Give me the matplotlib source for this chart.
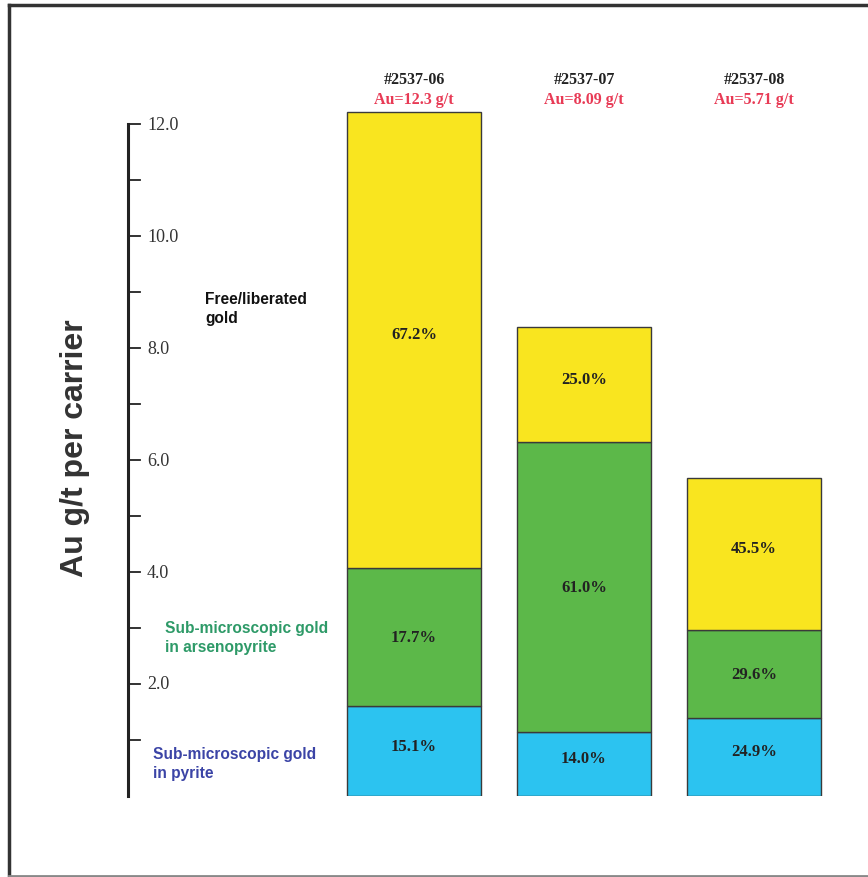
import matplotlib
matplotlib.use("Agg")
import matplotlib.pyplot as plt
from matplotlib.lines import Line2D
import numpy as np

# ---- data ----
samples = ["#2537-06", "#2537-07", "#2537-08"]
assays = ["Au=12.3 g/t", "Au=8.09 g/t", "Au=5.71 g/t"]
pyrite = [1.60, 1.14, 1.39]          # g/t, sub-microscopic gold in pyrite
arsenopyrite = [2.47, 5.19, 1.58]    # g/t, sub-microscopic gold in arsenopyrite
free_gold = [8.15, 2.05, 2.71]       # g/t, free/liberated gold
pct_pyrite = ["15.1%", "14.0%", "24.9%"]
pct_arseno = ["17.7%", "61.0%", "29.6%"]
pct_free = ["67.2%", "25.0%", "45.5%"]
yticks_major = [2.0, 4.0, 6.0, 8.0, 10.0, 12.0]
yticks_minor = [1, 3, 5, 7, 9, 11]

W, H = 868, 878
fig = plt.figure(figsize=(W / 100, H / 100), dpi=100)
fig.patch.set_facecolor("white")

# axes placement (pixels -> figure fraction)
x0_px, y0_px = 128, 797
unit_px = 56.0
ymax = 14
ax = fig.add_axes([x0_px / W, (H - y0_px) / H, (W - x0_px) / W, ymax * unit_px / H])
ax.set_facecolor("none")

bar_px = 170.0
c0 = 414.0
xl = (x0_px - c0) / bar_px
ax.set_xlim(xl, (W - c0) / bar_px)
ax.set_ylim(0, ymax)

def ypx(p):
    # pixel row -> data y
    return (y0_px - p) / unit_px

x = np.arange(len(samples))
width = 134 / bar_px
yellow = "#f9e51f"
green = "#5cb849"
blue = "#2cc3f0"
edge = "#3a3a3a"

pyr = np.array(pyrite)
ars = np.array(arsenopyrite)
fre = np.array(free_gold)
ax.bar(x, pyr, width, color=blue, edgecolor=edge, linewidth=1.0)
ax.bar(x, ars, width, bottom=pyr, color=green, edgecolor=edge, linewidth=1.0)
ax.bar(x, fre, width, bottom=pyr + ars, color=yellow, edgecolor=edge, linewidth=1.0)

serif = ["Liberation Serif", "DejaVu Serif"]
sans = ["Liberation Sans", "DejaVu Sans"]
for i in range(len(samples)):
    ax.text(x[i], pyr[i] / 2 + 0.1, pct_pyrite[i], ha="center", va="center",
            family=serif, fontweight="bold", fontsize=12, color="#222222")
    ax.text(x[i], pyr[i] + ars[i] / 2, pct_arseno[i], ha="center", va="center",
            family=serif, fontweight="bold", fontsize=12, color="#222222")
    ax.text(x[i], pyr[i] + ars[i] + fre[i] / 2 + 0.1, pct_free[i], ha="center", va="center",
            family=serif, fontweight="bold", fontsize=12, color="#222222")
    ax.text(x[i], ypx(80), samples[i], ha="center", va="center",
            family=serif, fontweight="bold", fontsize=11.5, color="#222222")
    ax.text(x[i], ypx(100), assays[i], ha="center", va="center",
            family=serif, fontweight="bold", fontsize=11.5, color="#e83a55")

# axis styling
for s in ["top", "right", "bottom"]:
    ax.spines[s].set_visible(False)
ax.spines["left"].set_bounds(0, 12)
ax.spines["left"].set_linewidth(2.2)
ax.spines["left"].set_color("#222222")
ax.set_xticks([])
ax.set_yticks([])
# ticks drawn to the right of the spine
for v in list(yticks_major) + list(yticks_minor):
    ax.plot([xl, xl + 12 / bar_px], [v, v], color="#222222", lw=1.3, clip_on=False)
for v in yticks_major:
    ax.text(xl + 19 / bar_px, v, f"{v:.1f}", ha="left", va="center",
            family=serif, fontsize=13, color="#333333")

# category labels on the left
lab_kw = dict(ha="left", va="center", family=sans, fontsize=11.2, fontweight="bold",
              linespacing=1.3)
ax.text(xl + 77 / bar_px, ypx(309), "Free/liberated\ngold", color="#111111", **lab_kw)
ax.text(xl + 37 / bar_px, ypx(638), "Sub-microscopic gold\nin arsenopyrite",
        color="#2e9a68", **lab_kw)
ax.text(xl + 25 / bar_px, ypx(764), "Sub-microscopic gold\nin pyrite",
        color="#3b44a6", **lab_kw)

# y-axis title
fig.text(75 / W, 1 - 448 / H, "Au g/t per carrier", rotation=90, ha="center", va="center",
         family=sans, fontsize=23, fontweight="bold", color="#333333")

# outer frame
fig.add_artist(Line2D([9 / W, 9 / W], [1 - 6 / H, 1 - 877 / H], transform=fig.transFigure,
                      color="#333333", lw=2.5))
fig.add_artist(Line2D([9 / W, 1], [1 - 6 / H, 1 - 6 / H], transform=fig.transFigure,
                      color="#333333", lw=2.5))
fig.add_artist(Line2D([9 / W, 1], [1 - 876.5 / H, 1 - 876.5 / H], transform=fig.transFigure,
                      color="#888888", lw=2))

fig.savefig("out.png", dpi=100)
